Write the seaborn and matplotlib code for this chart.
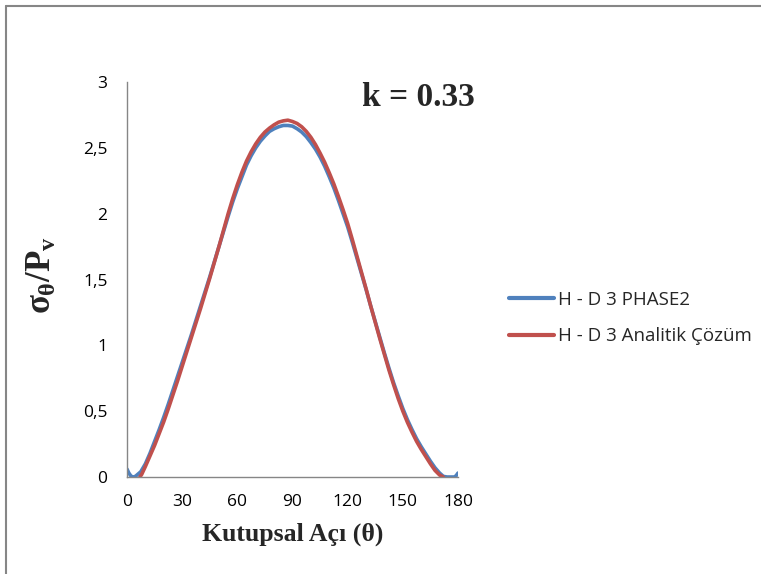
import matplotlib
matplotlib.use("Agg")
import matplotlib.pyplot as plt
from matplotlib.lines import Line2D
import seaborn as sns
import pandas as pd

# Tangential stress ratio around the opening, k = 0.33
theta_phase2 = [0, 1, 2, 3, 4, 5, 7.5, 10, 12.5, 15, 17.5, 20, 22.5, 25, 27.5, 30, 32.5,
                35, 37.5, 40, 42.5, 45, 47.5, 50, 52.5, 55, 57.5, 60, 62.5, 65, 67.5, 70,
                72.5, 75, 77.5, 80, 82.5, 85, 87.5, 90, 92.5, 95, 97.5, 100, 102.5, 105,
                107.5, 110, 112.5, 115, 117.5, 120, 122.5, 125, 127.5, 130, 132.5, 135,
                137.5, 140, 142.5, 145, 147.5, 150, 152.5, 155, 157.5, 160, 162.5, 165,
                167.5, 170, 172, 174, 176, 178, 179, 180]
stress_phase2 = [0.06, 0.03, 0.01, 0.00, 0.00, 0.01, 0.04, 0.10, 0.18, 0.27, 0.36, 0.455,
                 0.555, 0.66, 0.765, 0.87, 0.975, 1.08, 1.19, 1.30, 1.41, 1.52, 1.635,
                 1.75, 1.865, 1.98, 2.09, 2.19, 2.28, 2.37, 2.44, 2.50, 2.55, 2.59, 2.625,
                 2.645, 2.66, 2.67, 2.67, 2.665, 2.645, 2.62, 2.585, 2.54, 2.49, 2.43,
                 2.36, 2.28, 2.195, 2.10, 2.00, 1.90, 1.785, 1.665, 1.545, 1.425, 1.30,
                 1.18, 1.06, 0.94, 0.825, 0.715, 0.615, 0.52, 0.435, 0.36, 0.29, 0.23,
                 0.175, 0.12, 0.07, 0.03, 0.005, 0.00, 0.00, 0.00, 0.01, 0.03]

theta_analytic = [7, 8, 10, 12.5, 15, 17.5, 20, 22.5, 25, 27.5, 30, 32.5, 35, 37.5, 40,
                  42.5, 45, 47.5, 50, 52.5, 55, 57.5, 60, 62.5, 65, 67.5, 70, 72.5, 75,
                  77.5, 80, 82.5, 85, 87.5, 90, 92.5, 95, 97.5, 100, 102.5, 105, 107.5,
                  110, 112.5, 115, 117.5, 120, 122.5, 125, 127.5, 130, 132.5, 135, 137.5,
                  140, 142.5, 145, 147.5, 150, 152.5, 155, 157.5, 160, 162.5, 165, 167.5,
                  170, 172]
stress_analytic = [0.00, 0.02, 0.08, 0.16, 0.24, 0.33, 0.42, 0.52, 0.625, 0.73, 0.84,
                   0.95, 1.06, 1.17, 1.28, 1.395, 1.51, 1.63, 1.75, 1.875, 2.00, 2.115,
                   2.22, 2.315, 2.40, 2.47, 2.53, 2.58, 2.62, 2.65, 2.675, 2.695, 2.705,
                   2.71, 2.70, 2.685, 2.66, 2.625, 2.58, 2.525, 2.46, 2.39, 2.31, 2.225,
                   2.13, 2.03, 1.925, 1.805, 1.68, 1.555, 1.43, 1.30, 1.175, 1.05, 0.93,
                   0.81, 0.70, 0.595, 0.50, 0.415, 0.34, 0.27, 0.21, 0.155, 0.10, 0.05,
                   0.015, 0.00]

x_ticks = [0, 30, 60, 90, 120, 150, 180]
y_ticks = [0, 0.5, 1, 1.5, 2, 2.5, 3]
y_tick_labels = ["0", "0,5", "1", "1,5", "2", "2,5", "3"]

label_phase2 = "H - D 3 PHASE2"
label_analytic = "H - D 3 Analitik Çözüm"

sns.set_theme(style="white")
plt.rcParams["font.family"] = ["Open Sans", "DejaVu Sans"]
plt.rcParams["mathtext.fontset"] = "custom"
plt.rcParams["mathtext.rm"] = "Liberation Serif:bold"
plt.rcParams["mathtext.it"] = "Liberation Serif:bold"
plt.rcParams["mathtext.bf"] = "Liberation Serif:bold"

blue = "#4F81BD"
red = "#C0504D"
grey = "#868686"

fig = plt.figure(figsize=(7.61, 5.74), dpi=100)
ax = fig.add_axes([127 / 761, 1 - 477 / 574, (458 - 127) / 761, (477 - 82) / 574])

df_p = pd.DataFrame({"theta": theta_phase2, "stress": stress_phase2})
df_a = pd.DataFrame({"theta": theta_analytic, "stress": stress_analytic})
sns.lineplot(data=df_p, x="theta", y="stress", ax=ax, color=blue, lw=2.6,
             sort=False, legend=False, solid_joinstyle="round", solid_capstyle="round")
sns.lineplot(data=df_a, x="theta", y="stress", ax=ax, color=red, lw=2.6,
             sort=False, legend=False, solid_joinstyle="round", solid_capstyle="round")

ax.set_xlim(0, 180)
ax.set_ylim(0, 3)
ax.set_xticks(x_ticks)
ax.set_xticklabels([str(t) for t in x_ticks])
ax.set_yticks(y_ticks)
ax.set_yticklabels(y_tick_labels)
ax.tick_params(axis="both", length=0, labelsize=12.5, colors="black", pad=12)
ax.tick_params(axis="y", pad=14)
for side in ["top", "right"]:
    ax.spines[side].set_visible(False)
for side in ["left", "bottom"]:
    ax.spines[side].set_color(grey)
    ax.spines[side].set_linewidth(1.0)

ax.set_xlabel("Kutupsal Açı (θ)", fontsize=18.5, fontweight="bold",
              family="Liberation Serif", labelpad=9)
ax.set_ylabel(r"$\sigma_{\theta}/P_{v}$", fontsize=25)
ax.yaxis.set_label_coords(-0.205, 0.51)

fig.text(418 / 761, 1 - 97 / 574, "k = 0.33", fontsize=24, fontweight="bold",
         family="Liberation Serif", ha="center", va="center")

handles = [Line2D([], [], color=blue, lw=3), Line2D([], [], color=red, lw=3)]
fig.legend(handles, [label_phase2, label_analytic], loc="center left",
           bbox_to_anchor=(492 / 761, 1 - 318 / 574), frameon=False,
           fontsize=13.5, handlelength=2.4, handletextpad=0.2, labelspacing=1.0)

# outer chart frame (top and left edges)
fig.add_artist(Line2D([6 / 761, 6 / 761], [0, 1 - 6 / 574], transform=fig.transFigure,
                      color=grey, lw=1.5))
fig.add_artist(Line2D([6 / 761, 1], [1 - 6 / 574, 1 - 6 / 574], transform=fig.transFigure,
                      color=grey, lw=1.5))

fig.savefig("out.png", dpi=100)
